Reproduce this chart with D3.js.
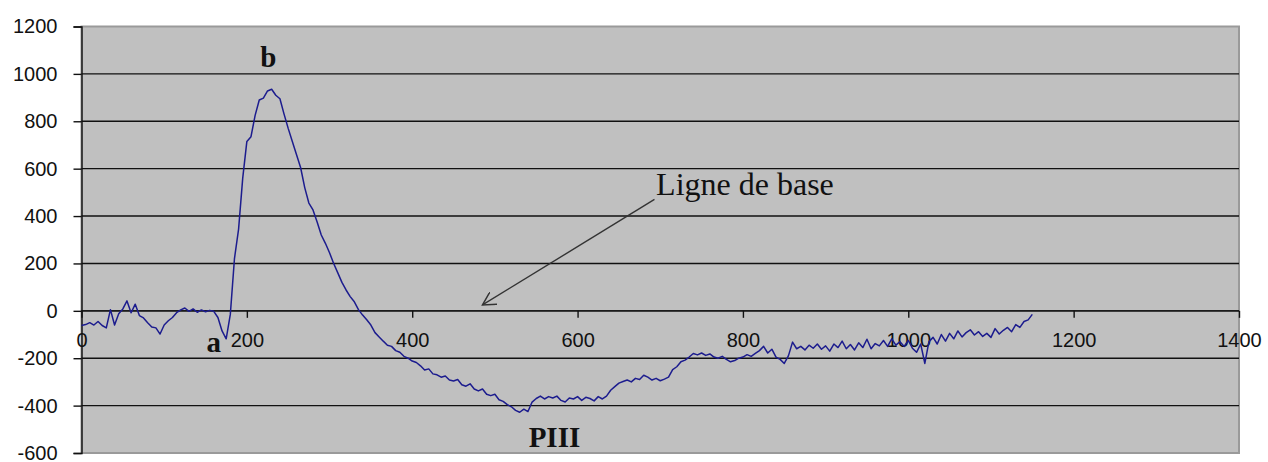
<!DOCTYPE html>
<html>
<head>
<meta charset="utf-8">
<script src="https://cdn.jsdelivr.net/npm/d3@7"></script>
<style>
    body { margin: 0; background: #fff; }
    svg { display: block; }
</style>
</head>
<body>
<svg id="graphic"></svg>
<script>
// pas d'echantillonnage de l'axe OX
const sampleStep = 5;
// valeurs (x = 0, 5, 10, ... 1150)
const signal = [
    -62, -58, -50, -60, -45, -62, -72, 5, -60, -12,
    8, 42, -8, 28, -20, -30, -50, -68, -72, -98,
    -60, -42, -28, -8, 4, 12, -2, 8, -6, 4,
    -4, 2, -2, -28, -85, -118, -15, 220, 345, 560,
    715, 735, 825, 890, 898, 928, 935, 910, 895, 830,
    770, 715, 660, 605, 520, 455, 426, 375, 320, 285,
    245, 200, 160, 120, 88, 60, 38, 5, -18, -38,
    -60, -92, -110, -128, -145, -150, -168, -175, -192, -200,
    -212, -218, -232, -250, -245, -266, -270, -280, -275, -292,
    -296, -290, -312, -318, -308, -330, -338, -330, -352, -358,
    -352, -375, -382, -396, -405, -420, -428, -415, -425, -385,
    -370, -360, -372, -362, -368, -360, -378, -385, -368, -372,
    -362, -378, -365, -370, -380, -362, -372, -360, -335, -320,
    -305, -298, -292, -300, -285, -290, -272, -280, -292, -285,
    -295, -288, -280, -248, -236, -215, -208, -195, -180, -186,
    -178, -188, -182, -195, -200, -192, -205, -215, -210, -200,
    -195, -185, -192, -180, -168, -150, -178, -162, -195, -205,
    -222, -190, -132, -160, -150, -165, -145, -158, -140, -162,
    -148, -170, -140, -155, -128, -160, -142, -165, -135, -155,
    -120, -160, -138, -148, -125, -150, -118, -145, -130, -150,
    -125, -158, -175, -140, -222, -130, -112, -140, -100, -128,
    -95, -118, -85, -110, -92, -80, -102, -88, -108, -95,
    -112, -75, -98, -82, -70, -88, -58, -70, -45, -38,
    -15
];

const ticksX = [0, 200, 400, 600, 800, 1000, 1200, 1400];
const ticksY = [-600, -400, -200, 0, 200, 400, 600, 800, 1000, 1200];

// annotations : texte, x, y (en unites du graphique)
const labels = [
    { text: "b", x: 226, y: 1030 },
    { text: "a", x: 160, y: -175 },
    { text: "PIII", x: 572, y: -575 }
];
const baseLabel = { text: "Ligne de base", x: 695, y: 487 };
const arrowFrom = [693, 470];
const arrowTo = [485, 25];

const width = 1268;
const height = 462;
const plotLeft = 81.5;
const plotRight = 1239;
const plotTop = 26.5;
const plotBottom = 453;

let svg = d3.select("svg")
    .attr("width", width)
    .attr("height", height);

const scX = d3.scaleLinear().domain([0, 1400]).range([plotLeft, plotRight]);
const scY = d3.scaleLinear().domain([-600, 1200]).range([plotBottom, plotTop]);

// fond gris
svg.append("rect")
    .attr("x", plotLeft)
    .attr("y", plotTop)
    .attr("width", plotRight - plotLeft)
    .attr("height", plotBottom - plotTop)
    .attr("fill", "#c0c0c0")
    .attr("stroke", "#9a9a9a")
    .attr("stroke-width", 2);

// lignes de grille
svg.append("g")
    .selectAll("line")
    .data(ticksY.filter(d => d > -600 && d < 1200))
    .enter()
    .append("line")
    .attr("x1", plotLeft)
    .attr("x2", plotRight)
    .attr("y1", d => scY(d))
    .attr("y2", d => scY(d))
    .attr("stroke", "#111")
    .attr("stroke-width", 1.4);

// axe vertical
let axisY = d3.axisLeft(scY).tickValues(ticksY).tickSize(8).tickPadding(16)
    .tickFormat(d => String(d));
let gY = svg.append("g")
    .attr("transform", `translate(${plotLeft}, 0)`)
    .call(axisY);
gY.select(".domain").attr("stroke", "#111").attr("stroke-width", 1.4);
gY.selectAll(".tick line").attr("stroke", "#111").attr("stroke-width", 1.4);
gY.selectAll("text")
    .attr("font-family", "Liberation Sans, Arial, sans-serif")
    .attr("font-size", 20)
    .attr("fill", "#111");

// axe horizontal (sur la ligne zero)
let axisX = d3.axisBottom(scX).tickValues(ticksX).tickSize(7).tickPadding(15)
    .tickFormat(d => String(d));
let gX = svg.append("g")
    .attr("transform", `translate(0, ${scY(0)})`)
    .call(axisX);
gX.select(".domain").remove();
gX.selectAll(".tick line").attr("stroke", "#111").attr("stroke-width", 1.4);
gX.selectAll("text")
    .attr("font-family", "Liberation Sans, Arial, sans-serif")
    .attr("font-size", 20)
    .attr("fill", "#111");
svg.append("line")
    .attr("x1", plotLeft).attr("x2", plotRight)
    .attr("y1", scY(0)).attr("y2", scY(0))
    .attr("stroke", "#111")
    .attr("stroke-width", 1.4);

// courbe
let line = d3.line()
    .x((d, i) => scX(i * sampleStep))
    .y(d => scY(d));
svg.append("path")
    .datum(signal)
    .attr("d", line)
    .attr("fill", "none")
    .attr("stroke", "#1c1c8e")
    .attr("stroke-width", 1.5)
    .attr("stroke-linejoin", "round");

// lettres
svg.selectAll(".lbl")
    .data(labels)
    .enter()
    .append("text")
    .attr("x", d => scX(d.x))
    .attr("y", d => scY(d.y))
    .attr("text-anchor", "middle")
    .attr("font-family", "Liberation Serif, Times New Roman, serif")
    .attr("font-weight", "bold")
    .attr("font-size", 29)
    .attr("fill", "#111")
    .text(d => d.text);

svg.append("text")
    .attr("x", scX(baseLabel.x))
    .attr("y", scY(baseLabel.y))
    .attr("font-family", "Liberation Serif, Times New Roman, serif")
    .attr("font-size", 32)
    .attr("fill", "#111")
    .text(baseLabel.text);

// fleche
svg.append("defs").append("marker")
    .attr("id", "tip")
    .attr("viewBox", "0 0 12 12")
    .attr("refX", 11).attr("refY", 6)
    .attr("markerWidth", 14).attr("markerHeight", 14)
    .attr("markerUnits", "userSpaceOnUse")
    .attr("orient", "auto")
    .append("path")
    .attr("d", "M0,0 L11,6 L0,12")
    .attr("fill", "none")
    .attr("stroke", "#333")
    .attr("stroke-width", 1.3);

svg.append("line")
    .attr("x1", scX(arrowFrom[0])).attr("y1", scY(arrowFrom[1]))
    .attr("x2", scX(arrowTo[0])).attr("y2", scY(arrowTo[1]))
    .attr("stroke", "#333")
    .attr("stroke-width", 1.4)
    .attr("marker-end", "url(#tip)");
</script>
</body>
</html>
